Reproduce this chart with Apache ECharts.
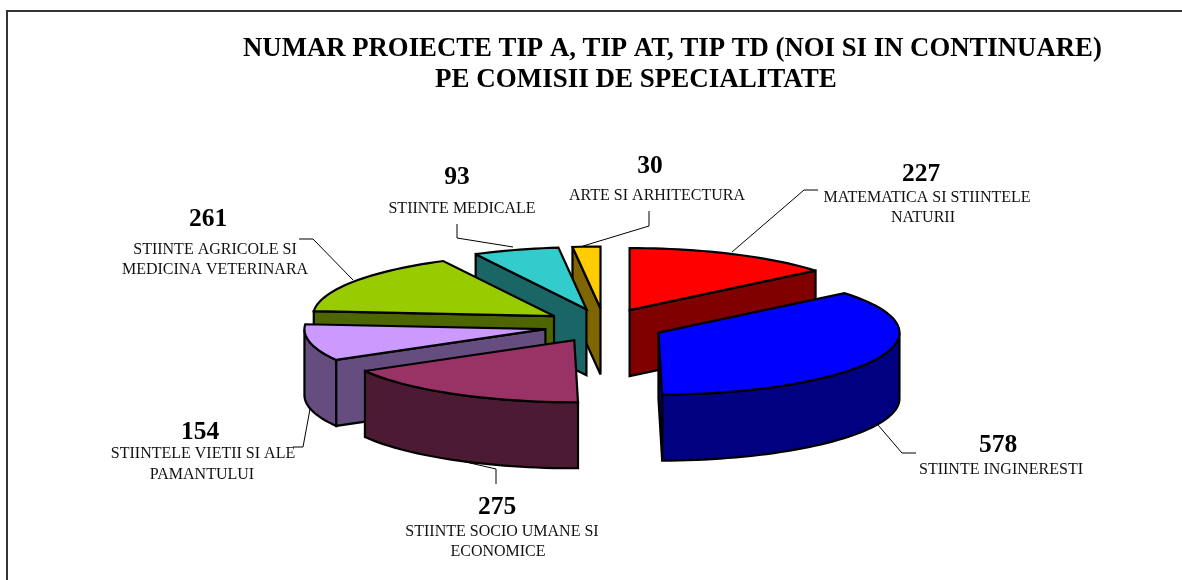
<!DOCTYPE html>
<html>
<head>
<meta charset="utf-8">
<title>Numar proiecte</title>
<script src="https://cdn.jsdelivr.net/npm/echarts@6/dist/echarts.min.js"></script>
<style>html,body{margin:0;padding:0;background:#fff}#c{width:1182px;height:580px}</style>
</head>
<body>
<div id="c"></div>
<script>
const categories = [
  ['MATEMATICA SI STIINTELE', 'NATURII'],
  ['STIINTE INGINERESTI'],
  ['STIINTE SOCIO UMANE SI', 'ECONOMICE'],
  ['STIINTELE VIETII SI ALE', 'PAMANTULUI'],
  ['STIINTE AGRICOLE SI', 'MEDICINA VETERINARA'],
  ['STIINTE MEDICALE'],
  ['ARTE SI ARHITECTURA']
];
const values = [227, 578, 275, 154, 261, 93, 30];
const titleLines = ['NUMAR PROIECTE TIP A, TIP AT, TIP TD (NOI SI IN CONTINUARE)', 'PE COMISII DE SPECIALITATE'];

const topColors  = ['#FF0000', '#0000FF', '#993366', '#CC99FF', '#99CC00', '#33CCCC', '#FFCC00'];
const sideColors = ['#800000', '#000080', '#4D1A33', '#664D80', '#4D6600', '#1A6666', '#806600'];
const paintRank  = [2, 5, 6, 4, 3, 1, 0];

const FONT = '"Liberation Serif","Times New Roman",serif';
const CX = 604, CY = 325.5, RX = 241, RY = 62, DEPTH = 66, EX = 60, EY = 17;

// label layout: number centre, label centre lines, leader polyline
const valuePos = [[921,174],[998,445],[497,507],[200,432],[208,219],[457,177],[650,166]];
const labelPos = [
  [[927,198],[923,218]],
  [[1001,470]],
  [[502,532],[498,552]],
  [[203,454],[202,475]],
  [[215,250],[215,270]],
  [[462,209]],
  [[657,196]]
];
const leaders = [
  [[732,252],[804,190],[818,190]],
  [[878,425],[902,453],[916,453]],
  [[457,460],[496,469],[496,484]],
  [[310,409],[303,447],[293,447]],
  [[353,280],[313,239],[299,239]],
  [[513,247],[457,238],[457,224]],
  [[583,246],[649,226],[649,211]]
];

const total = values.reduce((a, b) => a + b, 0);
const rad = d => d * Math.PI / 180;

function renderSlice(params, api) {
  const i = params.dataIndex;
  const v = api.value(0);
  let before = 0;
  for (let k = 0; k < i; k++) before += values[k];
  const a0 = before / total * 360, a1 = (before + v) / total * 360, mid = (a0 + a1) / 2;
  const ax = CX + EX * Math.sin(rad(mid)), ay = CY - EY * Math.cos(rad(mid));
  const pt = a => [ax + RX * Math.sin(rad(a)), ay - RY * Math.cos(rad(a))];
  const arc = (s, e) => {
    const pts = [], n = Math.max(2, Math.ceil((e - s) / 2));
    for (let k = 0; k <= n; k++) pts.push(pt(s + (e - s) * k / n));
    return pts;
  };
  const down = p => [p[0], p[1] + DEPTH];
  const rank = paintRank[i] * 10;
  const stroke = { stroke: '#000', lineWidth: 2.2, lineJoin: 'miter', miterLimit: 3 };
  const poly = (points, fill, z2) => ({
    type: 'polygon', z2, shape: { points },
    style: Object.assign({ fill }, stroke), silent: true
  });
  const children = [];
  const apex = [ax, ay], pS = pt(a0), pE = pt(a1);
  if (pS[0] < ax - 0.01) children.push(poly([apex, pS, down(pS), down(apex)], sideColors[i], rank + 1));
  if (pE[0] > ax + 0.01) children.push(poly([pE, apex, down(apex), down(pE)], sideColors[i], rank + 1));
  const fs = Math.max(a0, 90), fe = Math.min(a1, 270);
  if (fe > fs) {
    const front = arc(fs, fe);
    children.push(poly(front.concat(front.slice().reverse().map(down)), sideColors[i], rank + 2));
  }
  children.push(poly([apex].concat(arc(a0, a1)), topColors[i], rank + 3));

  children.push({
    type: 'polyline', z2: 200, silent: true,
    shape: { points: leaders[i] },
    style: { stroke: '#000', lineWidth: 1, fill: null }
  });
  children.push({
    type: 'text', z2: 210, silent: true,
    style: {
      text: String(v), x: valuePos[i][0], y: valuePos[i][1], align: 'center', verticalAlign: 'middle',
      fontFamily: FONT, fontSize: 25.5, fontWeight: 'bold', fill: '#000'
    }
  });
  categories[i].forEach((line, k) => children.push({
    type: 'text', z2: 210, silent: true,
    style: {
      text: line, x: labelPos[i][k][0], y: labelPos[i][k][1], align: 'center', verticalAlign: 'middle',
      fontFamily: FONT, fontSize: 16, fill: '#111'
    }
  }));
  return { type: 'group', children };
}

const chart = echarts.init(document.getElementById('c'), null, { renderer: 'canvas' });
chart.setOption({
  animation: false,
  backgroundColor: '#fff',
  title: [
    { text: titleLines[0], left: 243, top: 36, padding: 0, textStyle: { fontFamily: FONT, fontSize: 26.75, fontWeight: 'bold', color: '#000' } },
    { text: titleLines[1], left: 435, top: 67, padding: 0, textStyle: { fontFamily: FONT, fontSize: 27, fontWeight: 'bold', color: '#000' } }
  ],
  graphic: [{
    type: 'polyline', silent: true,
    shape: { points: [[7, 580], [7, 11], [1182, 11]] },
    style: { stroke: '#333', lineWidth: 2, fill: null }
  }],
  series: [{
    type: 'custom',
    name: 'Numar proiecte',
    coordinateSystem: 'none',
    renderItem: renderSlice,
    data: values.map(v => [v])
  }]
});
</script>
</body>
</html>
